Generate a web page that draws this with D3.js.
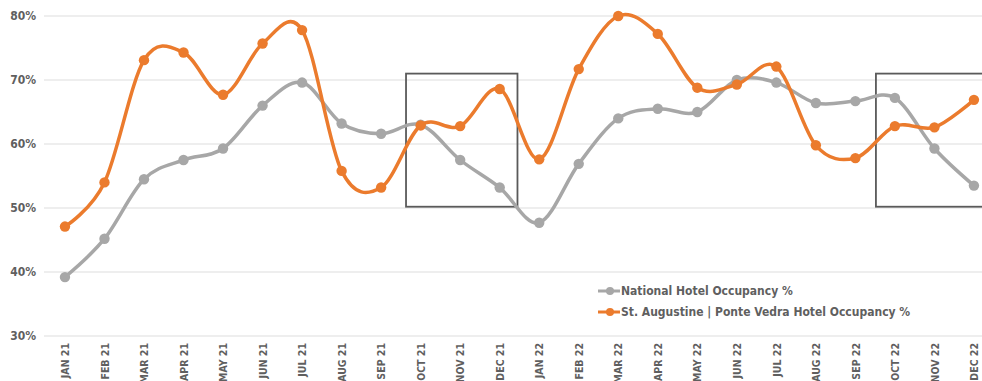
<!DOCTYPE html>
<html>
<head>
<meta charset="utf-8">
<script src="https://cdn.jsdelivr.net/npm/d3@7"></script>
<style>
  html, body { margin: 0; padding: 0; background: #fff; }
  svg { display: block; }
  text { font-family: "DejaVu Sans Condensed", "DejaVu Sans", sans-serif; font-weight: bold; fill: #5f5f5f; }
</style>
</head>
<body>
<svg id="chart" width="982" height="381"></svg>
<script>
// Monthly hotel occupancy, Jan 2021 – Dec 2022
const months = [
  "JAN 21","FEB 21","MAR 21","APR 21","MAY 21","JUN 21","JUL 21","AUG 21","SEP 21","OCT 21","NOV 21","DEC 21",
  "JAN 22","FEB 22","MAR 22","APR 22","MAY 22","JUN 22","JUL 22","AUG 22","SEP 22","OCT 22","NOV 22","DEC 22"
];
const nationalOcc = [
  39.2, 45.2, 54.5, 57.5, 59.3, 66.0, 69.6, 63.2, 61.6, 63.0, 57.5, 53.2,
  47.7, 56.9, 64.0, 65.5, 65.0, 70.0, 69.6, 66.4, 66.7, 67.2, 59.3, 53.5
];
const localOcc = [
  47.1, 54.0, 73.1, 74.3, 67.7, 75.7, 77.8, 55.8, 53.2, 62.9, 62.8, 68.6,
  57.6, 71.7, 80.0, 77.2, 68.8, 69.3, 72.1, 59.8, 57.8, 62.8, 62.6, 66.9
];
const yTicks = [30, 40, 50, 60, 70, 80];
const seriesNames = ["National Hotel Occupancy %", "St. Augustine | Ponte Vedra Hotel Occupancy %"];
// Quarters called out with a frame
const highlights = [["OCT 21", "DEC 21"], ["OCT 22", "DEC 22"]];
const highlightRange = [50.2, 71.0];

const colors = { national: "#a7a7a7", local: "#eb7b2d", grid: "#e8e8e8", frame: "#5a5a5a" };

const svg = d3.select("#chart");

const x = d3.scalePoint().domain(months).range([45.2, 993.7]).padding(0.5);
const y = d3.scaleLinear().domain([30, 80]).range([336, 16]);

// Gridlines
svg.append("g").selectAll("line").data(yTicks).join("line")
  .attr("x1", 44).attr("x2", 982)
  .attr("y1", d => y(d)).attr("y2", d => y(d))
  .attr("stroke", colors.grid).attr("stroke-width", 1.5);

// Y axis labels
const yAxis = svg.append("g").attr("transform", "translate(36,0)")
  .call(d3.axisLeft(y).tickValues(yTicks).tickFormat(d => d + "%").tickSize(0).tickPadding(0));
yAxis.select(".domain").remove();
yAxis.selectAll("text").style("font-size", "12px").attr("fill", "#5f5f5f");

// X axis labels (rotated)
const xAxis = svg.append("g").attr("transform", `translate(0,${y(30)})`)
  .call(d3.axisBottom(x).tickSize(0).tickPadding(0));
xAxis.select(".domain").remove();
xAxis.selectAll("text")
  .style("font-size", "10.5px")
  .attr("fill", "#5f5f5f")
  .attr("transform", "rotate(-90)")
  .attr("text-anchor", "end")
  .attr("dy", "0.35em")
  .attr("x", -7).attr("y", 0);

// Highlight frames
const step = x.step();
svg.append("g").selectAll("rect").data(highlights).join("rect")
  .attr("x", (d, i) => x(d[0]) - step * (i === 0 ? 0.37 : 0.48))
  .attr("y", y(highlightRange[1]))
  .attr("width", (d, i) => (x(d[1]) + step * 0.45) - (x(d[0]) - step * (i === 0 ? 0.37 : 0.48)))
  .attr("height", y(highlightRange[0]) - y(highlightRange[1]))
  .attr("fill", "none").attr("stroke", colors.frame).attr("stroke-width", 1.8);

const line = d3.line()
  .x((d, i) => x(months[i]))
  .y(d => y(d))
  .curve(d3.curveCardinal.tension(0));

function drawSeries(values, color) {
  const g = svg.append("g");
  g.append("path").datum(values)
    .attr("d", line).attr("fill", "none")
    .attr("stroke", color).attr("stroke-width", 3.5)
    .attr("stroke-linejoin", "round");
  g.selectAll("circle").data(values).join("circle")
    .attr("cx", (d, i) => x(months[i])).attr("cy", d => y(d))
    .attr("r", 5.2).attr("fill", color);
}
drawSeries(nationalOcc, colors.national);
drawSeries(localOcc, colors.local);

// Legend
const legend = svg.append("g").attr("transform", "translate(598,291)");
[[seriesNames[0], colors.national], [seriesNames[1], colors.local]].forEach(([name, c], i) => {
  const row = legend.append("g").attr("transform", `translate(0,${i * 21})`);
  row.append("line").attr("x1", 0).attr("x2", 22).attr("y1", 0).attr("y2", 0)
    .attr("stroke", c).attr("stroke-width", 3);
  row.append("circle").attr("cx", 12).attr("cy", 0).attr("r", 4).attr("fill", c);
  row.append("text").attr("x", 23).attr("y", 0).attr("dy", "0.35em")
    .style("font-size", "12px").text(name);
});
</script>
</body>
</html>
